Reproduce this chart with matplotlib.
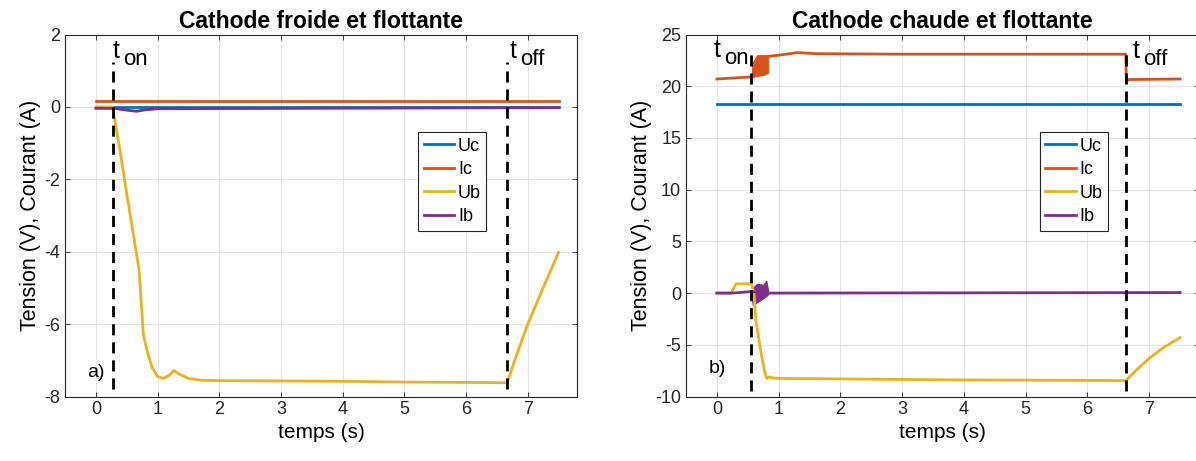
import matplotlib
matplotlib.use("Agg")
import matplotlib.pyplot as plt

plt.rcParams['font.family'] = ['Liberation Sans', 'DejaVu Sans']
plt.rcParams['axes.unicode_minus'] = False

# MATLAB default colours
c_uc = '#0072BD'
c_ic = '#D95319'
c_ub = '#EDB120'
c_ib = '#7E2F8E'

# ---- a) cathode froide et flottante ----
uc_a_t = [0, 7.5]
uc_a = [0.01, 0.01]
ic_a_t = [0, 7.5]
ic_a = [0.16, 0.16]
ub_a_t = [0, 0.27, 0.39, 0.5, 0.6, 0.7, 0.77, 0.84, 0.91, 1.0, 1.1, 1.2, 1.26,
          1.35, 1.5, 1.7, 2.0, 3.0, 4.0, 5.0, 6.0, 6.67, 6.8, 7.0, 7.25, 7.5]
ub_a = [0, 0, -1.2, -2.4, -3.45, -4.5, -6.3, -6.8, -7.2, -7.45, -7.5, -7.4, -7.28,
        -7.38, -7.5, -7.55, -7.56, -7.57, -7.58, -7.6, -7.61, -7.62, -6.95, -6.0, -5.0, -4.02]
ib_a_t = [0, 0.3, 0.5, 0.66, 0.8, 1.0, 7.5]
ib_a = [-0.04, -0.04, -0.09, -0.12, -0.08, -0.05, -0.02]
ton_a, toff_a = 0.27, 6.67

# ---- b) cathode chaude et flottante ----
uc_b_t = [0, 7.5]
uc_b = [18.3, 18.3]
ic_b_t = [0, 0.56, 0.83, 1.0, 1.3, 1.6, 3.0, 6.62, 6.63, 6.67, 7.5]
ic_b = [20.7, 20.9, 22.9, 23.0, 23.25, 23.15, 23.1, 23.1, 20.45, 20.65, 20.7]
ic_burst_t = [0.57, 0.65, 0.75, 0.83]
ic_burst_lo = [20.9, 21.0, 21.1, 21.3]
ic_burst_hi = [22.2, 23.0, 23.0, 23.0]
ub_b_t = [0, 0.23, 0.31, 0.56, 0.6, 0.63, 0.71, 0.78, 0.81, 0.85, 0.9, 1.0,
          2.0, 3.0, 4.0, 5.0, 6.0, 6.62, 6.8, 7.0, 7.25, 7.5]
ub_b = [0, 0, 0.9, 0.9, 0.0, -2.6, -5.6, -7.8, -8.25, -8.1, -8.2, -8.25,
        -8.3, -8.35, -8.4, -8.42, -8.44, -8.46, -7.4, -6.3, -5.2, -4.3]
ib_b_t = [0, 0.25, 0.56, 0.84, 7.5]
ib_b = [0, 0, 0.15, 0.0, 0.05]
ib_burst_t = [0.56, 0.58, 0.65, 0.75, 0.8, 0.83]
ib_burst_lo = [-0.3, -1.1, -0.9, -0.5, -0.3, -0.1]
ib_burst_hi = [0.3, 0.5, 0.9, 0.8, 1.2, 0.2]
ton_b, toff_b = 0.56, 6.63

labels = ['Uc', 'Ic', 'Ub', 'Ib']

fig = plt.figure(figsize=(11.96, 4.61), dpi=100)
ax1 = fig.add_axes([0.0544, 0.1399, 0.4281, 0.7852])
ax2 = fig.add_axes([0.5736, 0.1399, 0.4286, 0.7852])


def style_axes(ax, title, yticks):
    ax.set_xlim(-0.5, 7.8)
    ax.set_ylim(yticks[0], yticks[-1])
    ax.set_xticks(range(0, 8))
    ax.set_yticks(yticks)
    ax.grid(True, color='#e5e5e5', linewidth=0.8)
    ax.set_axisbelow(True)
    ax.tick_params(direction='in', top=True, right=True, length=3.5,
                   labelsize=13, colors='#262626', width=0.6)
    for s in ax.spines.values():
        s.set_color('#262626')
        s.set_linewidth(0.8)
    ax.set_title(title, fontsize=16.5, fontweight='bold', pad=5)
    ax.set_xlabel('temps (s)', fontsize=15, labelpad=3)
    ax.set_ylabel('Tension (V), Courant (A)', fontsize=15.5, labelpad=2)


def t_label(ax, x, y, sub):
    # MATLAB style: subscript at full size, just lowered
    ax.text(x, y, 't', fontsize=18, ha='left', va='baseline')
    ax.annotate(sub, xy=(x, y), xytext=(7.6, -5), textcoords='offset points',
                fontsize=16, ha='left', va='baseline')


# a)
ax1.plot(uc_a_t, uc_a, color=c_uc, lw=2, label=labels[0])
ax1.plot(ic_a_t, ic_a, color=c_ic, lw=2, label=labels[1])
ax1.plot(ub_a_t, ub_a, color=c_ub, lw=2, label=labels[2])
ax1.plot(ib_a_t, ib_a, color=c_ib, lw=2, label=labels[3])
for t in (ton_a, toff_a):
    ax1.plot([t, t], [-7.8, 1.25], color='k', lw=2, dashes=(4, 2.5))
t_label(ax1, ton_a, 1.34, 'on')
t_label(ax1, 6.71, 1.34, 'off')
ax1.text(0, -7.35, 'a)', fontsize=14, ha='center', va='center')
style_axes(ax1, 'Cathode froide et flottante', [-8, -6, -4, -2, 0, 2])

# b)
ax2.plot(uc_b_t, uc_b, color=c_uc, lw=2, label=labels[0])
ax2.plot(ic_b_t, ic_b, color=c_ic, lw=2, label=labels[1])
ax2.fill_between(ic_burst_t, ic_burst_lo, ic_burst_hi, color=c_ic, lw=0.8)
ax2.plot(ub_b_t, ub_b, color=c_ub, lw=2, label=labels[2])
ax2.plot(ib_b_t, ib_b, color=c_ib, lw=2, label=labels[3])
ax2.fill_between(ib_burst_t, ib_burst_lo, ib_burst_hi, color=c_ib, lw=0.8)
for t in (ton_b, toff_b):
    ax2.plot([t, t], [-9.5, 23.7], color='k', lw=2, dashes=(4, 2.5))
t_label(ax2, -0.06, 22.85, 'on')
t_label(ax2, 6.73, 22.7, 'off')
ax2.text(0, -7.3, 'b)', fontsize=14, ha='center', va='center')
style_axes(ax2, 'Cathode chaude et flottante', [-10, -5, 0, 5, 10, 15, 20, 25])

for ax in (ax1, ax2):
    handles = ax.get_lines()[:4]
    leg = ax.legend(handles, labels, loc='upper left', bbox_to_anchor=(0.69, 0.73),
                    fontsize=13, fancybox=False, framealpha=1, edgecolor='#262626',
                    handlelength=1.7, handletextpad=0.2, borderpad=0.3,
                    labelspacing=0.36, borderaxespad=0)
    leg.get_frame().set_linewidth(0.8)

fig.savefig('out.png', dpi=100)
